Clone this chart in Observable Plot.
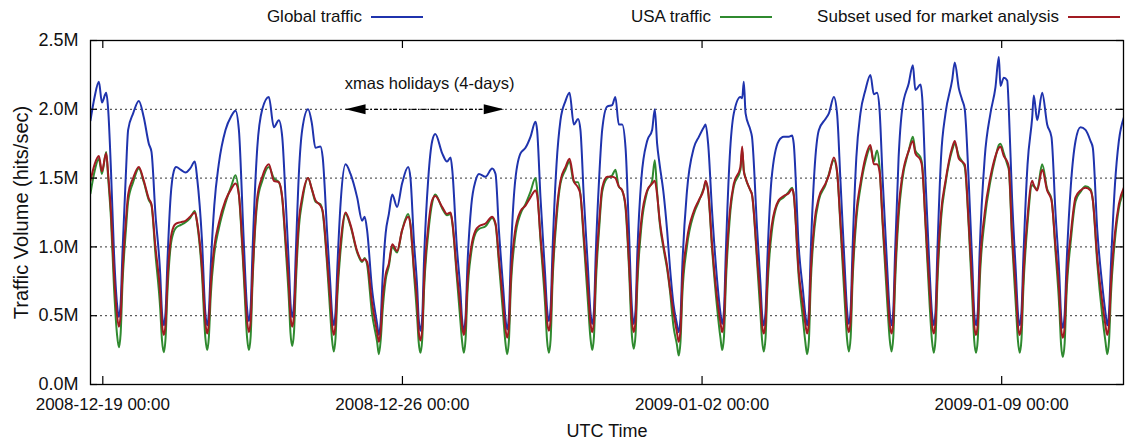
<!DOCTYPE html>
<html>
<head>
<meta charset="utf-8">
<script src="https://cdn.jsdelivr.net/npm/d3@7"></script>
<script src="https://cdn.jsdelivr.net/npm/@observablehq/plot@0.6"></script>
<style>
  body { margin: 0; background: #fff; font-family: "Liberation Sans", Arial, sans-serif; }
  #wrap { position: relative; width: 1125px; height: 440px; overflow: hidden; }
  #legend { position: relative; width: 1125px; height: 34px; font-size: 17px; color: #111; }
  .item { position: absolute; top: 0; height: 33px; display: flex; align-items: center; white-space: nowrap; }
  .item .sw { display: inline-block; width: 52px; height: 0; border-top: 2px solid; margin-left: 9px; }
</style>
</head>
<body>
<div id="wrap">
  <div id="legend"></div>
  <div id="chart"></div>
</div>
<script>
// ---------------- data ----------------
// time of each sample, in hours after 2008-12-19 00:00 UTC
const hours = [
  -6.9, -4.6, -2.2, -0.5, 1.9, 3.0, 4.6, 6.3, 8.0,
  9.0, 10.0, 11.0, 13.0, 14.2, 17.0, 20.2, 23.0, 25.8, 27.3, 29.5, 32.2, 33.2,
  34.2, 35.2, 36.2, 38.0, 39.8, 41.1, 43.8, 46.4, 49.0, 51.6, 52.9, 55.6, 57.5,
  58.5, 59.5, 60.5, 62.5, 65.0, 68.8, 72.0, 74.4, 76.3, 79.0, 80.9,
  81.9, 82.9, 83.9, 86.6, 89.4, 93.1, 95.9, 98.7, 100.6, 102.5, 104.4, 105.2,
  106.2, 107.2, 108.2, 110.0, 111.8, 115.1, 117.2, 119.2, 122.0, 123.3, 125.7, 127.6, 128.5,
  129.5, 130.5, 131.5, 133.5, 136.1, 138.9, 142.6, 145.4, 146.8, 148.2, 150.9, 153.8,
  154.8, 155.8, 156.8, 158.6, 160.4, 162.3, 165.0, 167.8, 171.2, 172.5, 174.4, 176.3, 177.1,
  178.1, 179.1, 180.1, 182.5, 184.7, 186.4, 190.3, 193.0, 195.0, 196.0, 198.5, 200.5, 201.4,
  202.4, 203.4, 204.4, 206.6, 209.0, 210.9, 214.6, 218.3, 220.2, 222.1, 224.5, 225.7,
  226.7, 227.7, 228.7, 231.0, 234.2, 237.0, 239.8, 242.6, 243.5, 245.4, 248.0, 249.1,
  250.1, 251.1, 252.1, 254.4, 256.6, 259.4, 261.7, 264.1, 266.5, 267.8, 269.7, 272.0, 273.4,
  274.4, 275.4, 276.4, 278.3, 280.0, 282.8, 285.6, 287.4, 289.3, 291.2, 293.1, 295.0, 296.7,
  297.7, 298.7, 299.7, 302.0, 305.2, 308.0, 309.5, 310.8, 312.2, 314.5, 316.4, 318.0, 320.0, 321.9,
  322.9, 323.9, 324.9, 327.5, 331.4, 334.2, 337.0, 338.0, 339.4, 341.7, 344.5, 346.3,
  347.3, 348.3, 349.3, 351.5, 353.8, 357.5, 358.5, 359.4, 360.4, 363.1, 364.0, 366.9, 368.8, 369.6,
  370.6, 371.6, 372.6, 375.0, 379.0, 381.8, 384.6, 386.5, 387.4, 390.2, 392.6, 393.9,
  394.9, 395.9, 396.9, 399.0, 401.5, 405.2, 407.1, 409.9, 411.7, 413.6, 416.0, 417.3,
  418.3, 419.3, 420.3, 422.5, 424.8, 427.6, 430.4, 432.3, 434.1, 435.5, 437.3, 439.8, 441.2,
  442.2, 443.2, 444.2, 446.2, 448.2, 451.9, 454.2, 455.6, 458.5, 459.4, 461.3, 463.6, 464.9,
  465.9, 466.9, 467.9, 470.0, 472.5, 476.2, 477.7, 480.0, 481.8, 483.3, 485.5, 487.6, 488.6,
  489.6, 490.6, 491.6, 494.5, 497.7, 500.5, 502.4, 503.3, 505.2, 507.1, 508.0, 509.8, 512.0, 513.1,
  514.1, 515.1, 516.1, 518.5, 521.1, 522.0, 523.9, 526.7, 529.5, 531.9, 534.2, 536.3, 537.3,
  538.3, 539.3, 540.3, 542.8, 545.4, 548.2, 551.0, 553.8, 555.1, 557.6, 560.4, 562.2,
  563.2, 564.2, 565.2, 567.5, 569.7, 572.5
];

// Global traffic, millions of hits/sec
const globalTraffic = [
  1.92, 2.09, 2.20, 2.05, 2.12, 2.00, 1.55, 0.95, 0.58,
  0.49, 0.59, 0.95, 1.55, 1.85, 1.97, 2.06, 1.94, 1.75, 1.69, 1.24, 0.80, 0.52,
  0.43, 0.53, 0.88, 1.36, 1.55, 1.58, 1.56, 1.54, 1.57, 1.62, 1.50, 1.05, 0.52,
  0.43, 0.53, 0.85, 1.30, 1.60, 1.85, 1.95, 1.99, 1.85, 1.05, 0.55,
  0.46, 0.56, 0.95, 1.72, 2.00, 2.09, 1.87, 1.92, 1.80, 1.35, 0.85, 0.60,
  0.49, 0.59, 0.95, 1.55, 1.85, 2.00, 1.90, 1.72, 1.73, 1.65, 1.12, 0.72, 0.52,
  0.43, 0.53, 0.85, 1.35, 1.60, 1.53, 1.36, 1.19, 1.22, 1.12, 0.70, 0.44,
  0.36, 0.46, 0.75, 1.10, 1.24, 1.38, 1.29, 1.46, 1.58, 1.50, 1.05, 0.70, 0.48,
  0.39, 0.49, 0.90, 1.50, 1.77, 1.82, 1.68, 1.62, 1.65, 1.55, 1.00, 0.68, 0.48,
  0.39, 0.49, 0.85, 1.30, 1.48, 1.53, 1.51, 1.57, 1.53, 1.12, 0.70, 0.49,
  0.40, 0.50, 0.90, 1.45, 1.68, 1.72, 1.80, 1.91, 1.85, 1.36, 0.80, 0.55,
  0.46, 0.56, 0.95, 1.60, 1.92, 2.06, 2.12, 1.89, 1.93, 1.85, 1.36, 0.85, 0.53,
  0.44, 0.54, 0.95, 1.50, 1.85, 2.02, 2.03, 2.09, 1.89, 1.89, 1.72, 1.12, 0.55,
  0.44, 0.54, 0.95, 1.50, 1.77, 1.85, 2.00, 1.75, 1.60, 1.38, 1.12, 0.85, 0.58, 0.44,
  0.38, 0.48, 0.85, 1.40, 1.72, 1.80, 1.87, 1.89, 1.75, 1.24, 0.75, 0.52,
  0.44, 0.54, 0.95, 1.65, 1.97, 2.09, 2.08, 2.20, 1.97, 1.85, 1.80, 1.12, 0.72, 0.52,
  0.43, 0.53, 0.90, 1.50, 1.77, 1.80, 1.80, 1.81, 1.75, 1.00, 0.68, 0.51,
  0.43, 0.53, 0.95, 1.55, 1.85, 1.93, 1.97, 2.09, 1.97, 1.48, 0.85, 0.54,
  0.44, 0.54, 0.95, 1.65, 1.97, 2.14, 2.25, 2.11, 2.12, 2.00, 1.48, 0.85, 0.53,
  0.43, 0.53, 0.95, 1.65, 2.00, 2.19, 2.32, 2.14, 2.18, 2.09, 1.48, 0.82, 0.52,
  0.43, 0.53, 0.95, 1.65, 1.97, 2.21, 2.34, 2.15, 2.07, 2.00, 1.48, 0.85, 0.52,
  0.43, 0.53, 0.95, 1.65, 1.97, 2.16, 2.38, 2.17, 2.23, 2.21, 2.00, 1.36, 0.80, 0.52,
  0.43, 0.53, 0.90, 1.60, 1.94, 2.10, 1.92, 2.12, 1.89, 1.80, 1.24, 0.80, 0.50,
  0.41, 0.51, 0.85, 1.45, 1.77, 1.87, 1.85, 1.77, 1.72, 1.12, 0.72, 0.52,
  0.43, 0.53, 0.85, 1.45, 1.77, 1.94
];

// USA traffic
const usaTraffic = [
  1.39, 1.55, 1.64, 1.53, 1.69, 1.50, 1.20, 0.70, 0.36,
  0.27, 0.37, 0.72, 1.13, 1.33, 1.47, 1.57, 1.47, 1.34, 1.30, 0.95, 0.55, 0.32,
  0.235, 0.34, 0.66, 1.00, 1.11, 1.14, 1.16, 1.18, 1.21, 1.26, 1.17, 0.80, 0.34,
  0.25, 0.35, 0.64, 0.95, 1.13, 1.32, 1.44, 1.52, 1.38, 0.80, 0.34,
  0.25, 0.35, 0.72, 1.32, 1.48, 1.58, 1.50, 1.47, 1.35, 1.00, 0.60, 0.38,
  0.28, 0.38, 0.72, 1.15, 1.33, 1.50, 1.42, 1.33, 1.31, 1.25, 0.88, 0.50, 0.33,
  0.24, 0.34, 0.64, 1.00, 1.24, 1.15, 0.96, 0.89, 0.92, 0.87, 0.52, 0.31,
  0.22, 0.32, 0.52, 0.76, 0.86, 1.00, 0.96, 1.12, 1.24, 1.16, 0.82, 0.48, 0.31,
  0.23, 0.33, 0.68, 1.10, 1.32, 1.38, 1.28, 1.23, 1.24, 1.17, 0.78, 0.46, 0.32,
  0.23, 0.33, 0.65, 0.96, 1.10, 1.13, 1.15, 1.21, 1.16, 0.88, 0.50, 0.31,
  0.22, 0.32, 0.68, 1.05, 1.24, 1.31, 1.40, 1.50, 1.42, 1.05, 0.58, 0.32,
  0.23, 0.33, 0.72, 1.20, 1.46, 1.56, 1.62, 1.47, 1.47, 1.38, 1.04, 0.60, 0.34,
  0.25, 0.35, 0.72, 1.13, 1.40, 1.50, 1.52, 1.56, 1.44, 1.41, 1.28, 0.85, 0.35,
  0.26, 0.36, 0.72, 1.15, 1.40, 1.48, 1.63, 1.40, 1.18, 0.98, 0.84, 0.68, 0.42, 0.29,
  0.21, 0.31, 0.64, 1.00, 1.24, 1.33, 1.43, 1.47, 1.40, 0.97, 0.55, 0.34,
  0.25, 0.35, 0.72, 1.20, 1.44, 1.56, 1.70, 1.56, 1.50, 1.41, 1.38, 0.88, 0.50, 0.33,
  0.24, 0.34, 0.68, 1.10, 1.33, 1.36, 1.40, 1.43, 1.38, 0.78, 0.47, 0.31,
  0.22, 0.32, 0.72, 1.13, 1.34, 1.45, 1.53, 1.63, 1.54, 1.15, 0.60, 0.33,
  0.24, 0.34, 0.72, 1.20, 1.43, 1.62, 1.72, 1.62, 1.70, 1.58, 1.15, 0.60, 0.33,
  0.24, 0.34, 0.72, 1.22, 1.48, 1.70, 1.80, 1.70, 1.65, 1.60, 1.15, 0.58, 0.32,
  0.23, 0.33, 0.72, 1.20, 1.46, 1.70, 1.75, 1.66, 1.62, 1.58, 1.15, 0.60, 0.32,
  0.23, 0.33, 0.72, 1.20, 1.48, 1.65, 1.74, 1.75, 1.68, 1.60, 1.56, 1.05, 0.56, 0.32,
  0.23, 0.33, 0.68, 1.17, 1.45, 1.44, 1.42, 1.60, 1.42, 1.35, 0.96, 0.56, 0.29,
  0.20, 0.30, 0.64, 1.05, 1.33, 1.40, 1.44, 1.42, 1.34, 0.88, 0.50, 0.31,
  0.22, 0.32, 0.64, 1.05, 1.28, 1.40
];

// Subset used for market analysis
const subsetTraffic = [
  1.48, 1.60, 1.66, 1.55, 1.68, 1.53, 1.25, 0.80, 0.50,
  0.42, 0.50, 0.80, 1.20, 1.38, 1.50, 1.58, 1.48, 1.35, 1.31, 1.00, 0.66, 0.44,
  0.36, 0.44, 0.74, 1.05, 1.15, 1.17, 1.18, 1.19, 1.22, 1.25, 1.18, 0.85, 0.45,
  0.37, 0.45, 0.72, 1.00, 1.17, 1.34, 1.42, 1.46, 1.38, 0.85, 0.46,
  0.38, 0.46, 0.78, 1.36, 1.51, 1.60, 1.48, 1.47, 1.36, 1.05, 0.70, 0.50,
  0.42, 0.50, 0.80, 1.20, 1.36, 1.50, 1.42, 1.34, 1.30, 1.26, 0.92, 0.60, 0.44,
  0.36, 0.44, 0.70, 1.05, 1.25, 1.16, 0.97, 0.90, 0.91, 0.89, 0.60, 0.38,
  0.31, 0.39, 0.60, 0.80, 0.88, 1.02, 0.97, 1.12, 1.22, 1.16, 0.85, 0.58, 0.39,
  0.32, 0.40, 0.74, 1.15, 1.34, 1.37, 1.29, 1.24, 1.25, 1.18, 0.82, 0.56, 0.43,
  0.36, 0.44, 0.72, 1.00, 1.12, 1.15, 1.17, 1.22, 1.17, 0.92, 0.58, 0.41,
  0.34, 0.42, 0.75, 1.10, 1.26, 1.30, 1.36, 1.41, 1.38, 1.08, 0.67, 0.46,
  0.39, 0.47, 0.80, 1.25, 1.48, 1.58, 1.64, 1.48, 1.43, 1.38, 1.08, 0.70, 0.45,
  0.38, 0.46, 0.80, 1.18, 1.43, 1.51, 1.51, 1.50, 1.44, 1.41, 1.30, 0.90, 0.46,
  0.38, 0.46, 0.80, 1.20, 1.41, 1.46, 1.48, 1.38, 1.20, 1.00, 0.86, 0.70, 0.52, 0.38,
  0.31, 0.39, 0.72, 1.05, 1.26, 1.34, 1.42, 1.48, 1.41, 1.00, 0.62, 0.45,
  0.38, 0.46, 0.80, 1.25, 1.46, 1.58, 1.73, 1.55, 1.50, 1.41, 1.38, 0.92, 0.60, 0.44,
  0.37, 0.45, 0.75, 1.15, 1.34, 1.37, 1.39, 1.42, 1.38, 0.82, 0.57, 0.44,
  0.37, 0.45, 0.80, 1.18, 1.36, 1.46, 1.52, 1.65, 1.55, 1.18, 0.70, 0.45,
  0.38, 0.46, 0.80, 1.25, 1.46, 1.65, 1.74, 1.60, 1.60, 1.55, 1.18, 0.70, 0.44,
  0.37, 0.45, 0.80, 1.28, 1.51, 1.70, 1.77, 1.68, 1.63, 1.58, 1.18, 0.68, 0.44,
  0.37, 0.45, 0.80, 1.25, 1.48, 1.72, 1.77, 1.64, 1.62, 1.60, 1.18, 0.70, 0.43,
  0.36, 0.44, 0.80, 1.25, 1.51, 1.66, 1.72, 1.73, 1.66, 1.62, 1.58, 1.10, 0.66, 0.43,
  0.36, 0.44, 0.76, 1.22, 1.48, 1.45, 1.41, 1.56, 1.41, 1.34, 1.00, 0.66, 0.41,
  0.34, 0.42, 0.72, 1.10, 1.36, 1.41, 1.43, 1.41, 1.34, 0.92, 0.60, 0.43,
  0.36, 0.44, 0.72, 1.10, 1.31, 1.43
];

const seriesNames = ["Global traffic", "USA traffic", "Subset used for market analysis"];
const seriesColors = ["#1f33ad", "#2f8a2f", "#a11b22"];

const timeOrigin = "2008-12-19T00:00Z";
const xDomain = ["2008-12-18T17:06Z", "2009-01-11T20:18Z"];
const xTicks = ["2008-12-19T00:00Z", "2008-12-26T00:00Z", "2009-01-02T00:00Z", "2009-01-09T00:00Z"];
const xTickLabels = ["2008-12-19 00:00", "2008-12-26 00:00", "2009-01-02 00:00", "2009-01-09 00:00"];
const yTicks = [0, 0.5, 1.0, 1.5, 2.0, 2.5];
const yTickLabels = ["0.0M", "0.5M", "1.0M", "1.5M", "2.0M", "2.5M"];
const gridValues = [0.5, 1.0, 1.5, 2.0];
const xLabel = "UTC Time";
const yLabel = "Traffic Volume (hits/sec)";

const annotationText = "xmas holidays (4-days)";
const annotationTime = "2008-12-26T15:12Z";
const annotationValue = 2.185;
const holidayStart = "2008-12-24T16:06Z";
const holidayEnd = "2008-12-28T08:48Z";
const holidayArrowValue = 2.0;

// ---------------- build ----------------
const origin = new Date(timeOrigin).getTime();
const seriesValues = [globalTraffic, usaTraffic, subsetTraffic];
seriesValues.forEach((v, s) => { if (v.length !== hours.length) console.error("length mismatch", seriesNames[s], v.length, hours.length); });
const rows = [];
seriesNames.forEach((name, s) => {
  hours.forEach((h, i) => rows.push({series: name, time: new Date(origin + h * 3600e3), value: seriesValues[s][i]}));
});

const W = 1125, H = 406, mT = 6, mB = 56, mL = 90, mR = 2;
const plotW = W - mL - mR, plotH = H - mT - mB;
const font = '"Liberation Sans", Arial, sans-serif';

const xTickDates = xTicks.map(d => new Date(d));
const xLabelMap = new Map(xTickDates.map((d, i) => [+d, xTickLabels[i]]));
const yLabelMap = new Map(yTicks.map((d, i) => [d, yTickLabels[i]]));

const arrowRight = {draw(ctx) { ctx.moveTo(0, 0); ctx.lineTo(-20, -5); ctx.lineTo(-20, 5); ctx.closePath(); }};
const arrowLeft = {draw(ctx) { ctx.moveTo(0, 0); ctx.lineTo(20, -5); ctx.lineTo(20, 5); ctx.closePath(); }};

const holiday = [{start: new Date(holidayStart), end: new Date(holidayEnd), v: holidayArrowValue}];

const lineMarks = seriesNames.map((name, s) =>
  Plot.line(rows.filter(r => r.series === name), {
    x: "time", y: "value", stroke: seriesColors[s], strokeWidth: 2, curve: "monotone-x", clip: true
  })
);

const chart = Plot.plot({
  width: W, height: H,
  marginTop: mT, marginBottom: mB, marginLeft: mL, marginRight: mR,
  style: {fontFamily: font, color: "#111", background: "white", overflow: "visible"},
  x: {type: "utc", domain: xDomain.map(d => new Date(d))},
  y: {domain: [0, 2.5]},
  marks: [
    Plot.ruleY(gridValues, {stroke: "#333", strokeWidth: 1, strokeDasharray: "2,3"}),
    ...lineMarks,
    Plot.link(holiday, {x1: "start", x2: "end", y1: "v", y2: "v", stroke: "#000", strokeWidth: 1.3, strokeDasharray: "4,2,1.5,2"}),
    Plot.dot(holiday, {x: "start", y: "v", symbol: arrowLeft, fill: "#000", stroke: "none"}),
    Plot.dot(holiday, {x: "end", y: "v", symbol: arrowRight, fill: "#000", stroke: "none"}),
    Plot.text([annotationText], {x: () => new Date(annotationTime), y: () => annotationValue, text: d => d, fontSize: 16.5, fill: "#111"}),
    Plot.ruleX(xTickDates, {insetTop: plotH - 8, stroke: "#000", strokeWidth: 1.2}),
    Plot.ruleX(xTickDates, {insetBottom: plotH - 8, stroke: "#000", strokeWidth: 1.2}),
    Plot.ruleY(yTicks, {insetRight: plotW - 7, stroke: "#000", strokeWidth: 1.2}),
    Plot.ruleY(yTicks, {insetLeft: plotW - 7, stroke: "#000", strokeWidth: 1.2}),
    Plot.frame({stroke: "#000", strokeWidth: 1.3}),
    Plot.axisX(xTickDates, {tickSize: 0, tickPadding: 13, tickFormat: d => xLabelMap.get(+d), fontSize: 17, label: null}),
    Plot.axisY(yTicks, {tickSize: 0, tickPadding: 12, tickFormat: d => yLabelMap.get(d), fontSize: 18, label: null}),
    Plot.text([yLabel], {frameAnchor: "left", rotate: -90, dx: -69, textAnchor: "middle", lineAnchor: "middle", fontSize: 20, fill: "#111"}),
    Plot.text([xLabel], {frameAnchor: "bottom", dy: 47, textAnchor: "middle", lineAnchor: "middle", fontSize: 18, fill: "#111"})
  ]
});
document.getElementById("chart").appendChild(chart);

// ---------------- legend ----------------
const legendRight = [702, 353, 5]; // distance of each sample line's end from the right edge
const legend = document.getElementById("legend");
seriesNames.forEach((name, s) => {
  const item = document.createElement("div");
  item.className = "item";
  item.style.right = legendRight[s] + "px";
  const label = document.createElement("span");
  label.textContent = name;
  const sw = document.createElement("span");
  sw.className = "sw";
  sw.style.borderTopColor = seriesColors[s];
  item.appendChild(label);
  item.appendChild(sw);
  legend.appendChild(item);
});
</script>
</body>
</html>
